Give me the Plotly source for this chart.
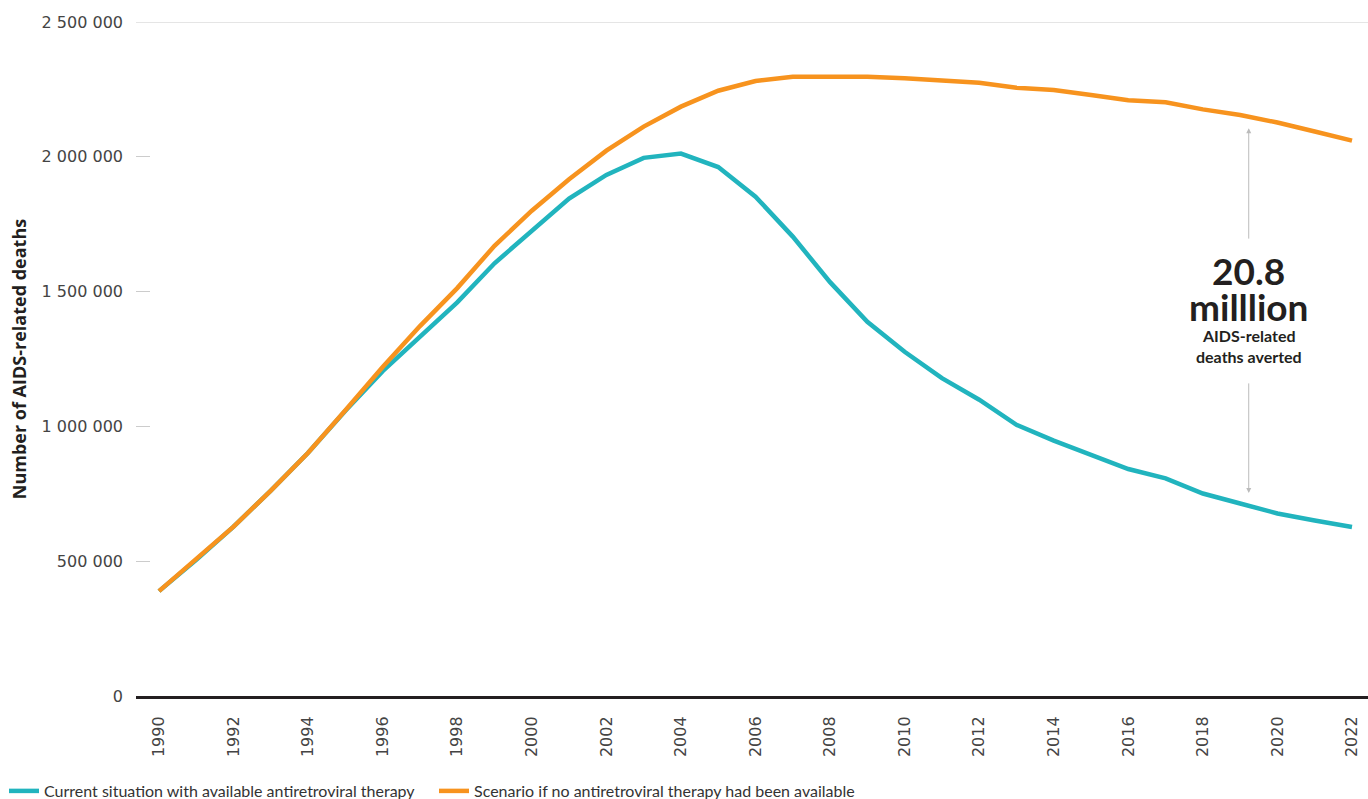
import plotly.graph_objects as go

years = list(range(1990, 2023))
current_art = [389000, 505000, 628000, 762000, 902000, 1058000, 1205000, 1335000, 1460000,
               1605000, 1727000, 1845000, 1933000, 1996000, 2012000, 1962000, 1852000, 1704000,
               1535000, 1388000, 1277000, 1179000, 1099000, 1006000, 947000, 894000, 842000,
               807000, 751000, 714000, 677000, 651000, 627000]
no_art = [389000, 507000, 628000, 762000, 902000, 1060000, 1220000, 1372000, 1513000,
          1670000, 1800000, 1917000, 2023000, 2112000, 2186000, 2245000, 2281000, 2297000,
          2297000, 2297000, 2291000, 2284000, 2275000, 2256000, 2248000, 2229000, 2210000,
          2202000, 2176000, 2155000, 2127000, 2094000, 2060000]
series_names = ["Current situation with available antiretroviral therapy",
                "Scenario if no antiretroviral therapy had been available"]
y_ticks = [0, 500000, 1000000, 1500000, 2000000, 2500000]
x_ticks = list(range(1990, 2023, 2))

TEAL = "#21b4be"
ORANGE = "#f7931e"

fig = go.Figure()
fig.add_trace(go.Scatter(x=years, y=current_art, mode="lines", name=series_names[0],
                         line=dict(color=TEAL, width=4.5)))
fig.add_trace(go.Scatter(x=years, y=no_art, mode="lines", name=series_names[1],
                         line=dict(color=ORANGE, width=4.5)))

W, H = 1368, 799
L, R, T, B = 136, 0, 22, 103
pw, ph = W - L - R, H - T - B

def px_x(x):
    return (x - L) / pw

def px_y(y):
    return (H - B - y) / ph

fig.update_layout(
    width=W, height=H,
    margin=dict(l=L, r=R, t=T, b=B, autoexpand=False),
    plot_bgcolor="white", paper_bgcolor="white",
    separators=". ",
    showlegend=True,
    legend=dict(orientation="h", x=px_x(4), xanchor="left",
                y=px_y(791), yanchor="middle",
                font=dict(family="Lato", size=16, color="#333"),
                entrywidth=385, entrywidthmode="pixels", itemwidth=30,
                bgcolor="rgba(0,0,0,0)"),
    xaxis=dict(range=[1990 - 23 / 37.28, 2022 + 16 / 37.28], tickvals=x_ticks,
               tickangle=-90, showgrid=False, zeroline=False, automargin=False,
               showline=True, linecolor="#231f20", linewidth=3,
               ticks="outside", ticklen=11, tickcolor="rgba(0,0,0,0)",
               tickfont=dict(family="DejaVu Sans", size=16, color="#444")),
    yaxis=dict(range=[0, 2500000], tickvals=y_ticks, tickformat=",d", automargin=False,
               showgrid=False, zeroline=False, showline=False,
               ticks="inside", ticklen=14, tickcolor="#cccccc", tickwidth=1,
               ticklabelstandoff=12,
               tickfont=dict(family="DejaVu Sans", size=16, color="#444"),
               title=dict(text="<b>Number of AIDS-related deaths</b>",
                          font=dict(family="Open Sans", size=18, color="#231f20"), standoff=10)),
)

fig.add_shape(type="line", xref="paper", yref="y", x0=0, x1=1, y0=2500000, y1=2500000,
              line=dict(color="#cccccc", width=1))

ax_x = 2019.23
fig.add_annotation(x=ax_x, y=2106000, ax=ax_x, ay=1691000, xref="x", yref="y", axref="x", ayref="y",
                   text="", showarrow=True, arrowhead=2, arrowsize=1, arrowwidth=1, arrowcolor="#bbbbbb")
fig.add_annotation(x=ax_x, y=753000, ax=ax_x, ay=1165000, xref="x", yref="y", axref="x", ayref="y",
                   text="", showarrow=True, arrowhead=2, arrowsize=1, arrowwidth=1, arrowcolor="#bbbbbb")

cx = px_x(1248.5)
for txt, ypx, size in [("<b>20.8</b>", 270, 37), ("<b>milllion</b>", 306, 37),
                       ("<b>AIDS-related</b>", 335, 16), ("<b>deaths averted</b>", 356, 16)]:
    fig.add_annotation(x=cx, y=px_y(ypx), xref="paper", yref="paper", text=txt, showarrow=False,
                       xanchor="center", yanchor="middle",
                       font=dict(family="Lato", size=size, color="#231f20"))

fig.write_html("out.html", config={"displayModeBar": False},
               post_script="document.body.style.margin='0';document.body.style.overflow='hidden';")
